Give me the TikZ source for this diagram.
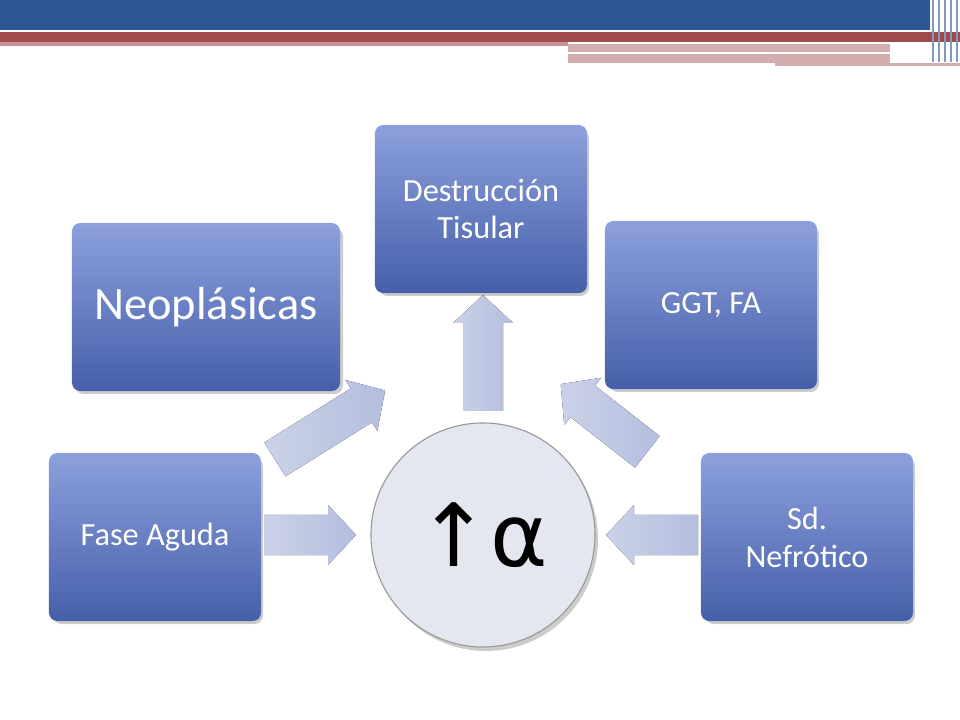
\documentclass[tikz,border=0pt]{standalone}
\usepackage{fontspec}
\setmainfont{Carlito}
\newfontfamily\symfont{DejaVu Sans}
\definecolor{boxtop}{RGB}{140,160,220}
\definecolor{boxbot}{RGB}{70,95,170}
\definecolor{arrowc}{RGB}{180,190,222}
\definecolor{circc}{RGB}{228,231,239}
\definecolor{bannerblue}{RGB}{46,86,150}
\definecolor{bannerred}{RGB}{160,75,75}
% block arrow: angle, x, y, length (px), centred at (x,y)
\newcommand{\blockarr}[4]{%
  \begin{scope}[shift={(#2,#3)},rotate=#1]
    \fill[barrow] (-#4/2,-20) -- (#4/2-28,-20) -- (#4/2-28,-30) -- (#4/2,0)
      -- (#4/2-28,30) -- (#4/2-28,20) -- (-#4/2,20) -- cycle;
  \end{scope}}
\begin{document}
\begin{tikzpicture}
[   x=0.025cm,y=-0.025cm,
    cbox/.style={rounded corners=6pt,top color=boxtop,bottom color=boxbot,
        text=white,align=center,font=\fontsize{23}{27}\selectfont,
        minimum width=5.3cm,minimum height=4.2cm,inner sep=2pt},
    barrow/.style={left color=arrowc!70,right color=arrowc},
]
    \useasboundingbox (0,0) rectangle (960,720);
    % banner
    \fill[bannerblue] (0,0) rectangle (930,30);
    \fill[bannerred] (0,32) rectangle (960,42);
    \fill[bannerred!60] (0,42) rectangle (568,46);
    \fill[bannerred!45] (568,44) rectangle (890,63);
    \fill[white] (568,52) rectangle (890,54);
    \fill[bannerred!45] (775,63) rectangle (960,66);
    \foreach \x in {932,938,944,950,956}
        \fill[bannerblue!60] (\x,0) rectangle ++(2,62);
    % arrows (y axis points down, so angles are clockwise)
    \blockarr{0}{310}{535}{92}
    \blockarr{180}{652}{535}{92}
    \blockarr{90}{483}{353}{116}
    \blockarr{32}{330}{425}{130}
    \blockarr{142}{604}{418}{110}
    % boxes
    \foreach \pos/\name/\txt in {{155,537}/fase/Fase Aguda,{481,209}/des/Destrucción\\Tisular,
        {711,305}/ggt/{GGT, FA},{807,537}/nef/Sd.\\Nefrótico}
    {   \fill[black,opacity=0.2,rounded corners=6pt] ([shift={(3,4)}]\pos) +(-105,-83) rectangle +(105,83);
        \node[cbox] (\name) at (\pos) {\txt};
    }
    \fill[black,opacity=0.2,rounded corners=6pt] (209,311) +(-134,-83) rectangle +(134,83);
    \node[cbox,minimum width=6.7cm,font=\fontsize{33}{38}\selectfont] (neo) at (206,307) {Neoplásicas};
    % centre
    \fill[black,opacity=0.2] (486,539) circle (112);
    \node[circle,draw=gray!80,line width=0.8pt,fill=circc,
        minimum size=5.6cm,font=\fontsize{62}{70}\selectfont]
        (alpha) at (483,535) {\symfont ↑α};
\end{tikzpicture}
\end{document}
